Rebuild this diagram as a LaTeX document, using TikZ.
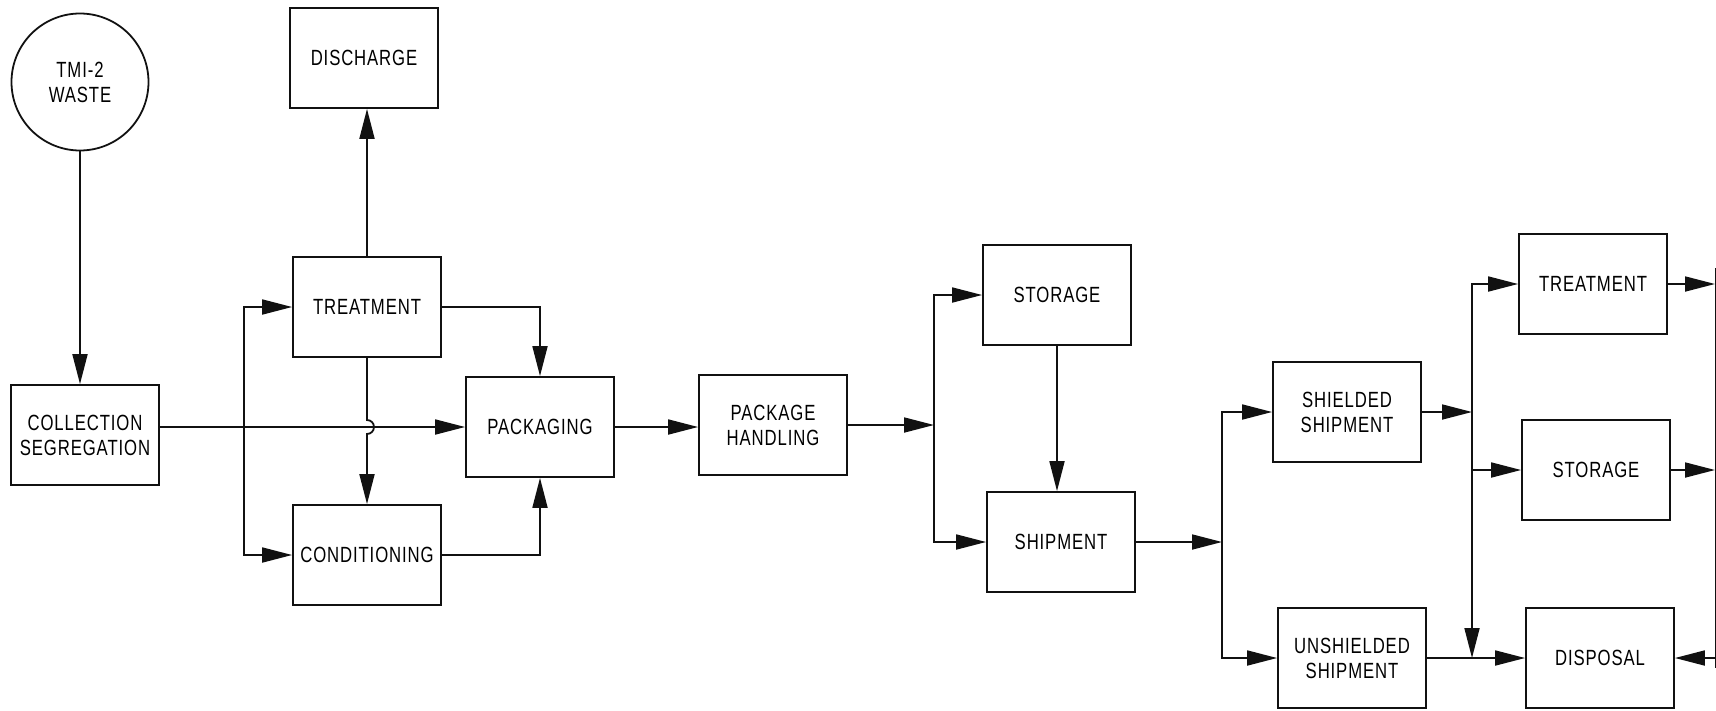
\documentclass[tikz,border=0pt]{standalone}
\usepackage{fontspec}
\setmainfont{Liberation Sans}[FakeStretch=0.76,LetterSpace=4]
\usepackage{tikz}
\usepackage{xcolor}
\usetikzlibrary{calc,arrows.meta,positioning}
\definecolor{inkline}{HTML}{111111}

\begin{document}
\begin{tikzpicture}[
    x=1pt, y=-1pt,
    stagebox/.style={
      draw=inkline,
      line width=1.8pt,
      minimum width=148pt,
      minimum height=100pt,
      inner sep=0pt,
      align=center,
      font=\fontsize{22}{25}\selectfont
    },
    flow/.style={draw=inkline, line width=1.8pt, -{Triangle[length=30pt,width=15pt]}},
    wire/.style={draw=inkline, line width=1.8pt}
  ]
  \useasboundingbox (0,0) rectangle (1716,710);

  \node[stagebox, circle, minimum size=137pt] (waste) at (80,82) {TMI-2\\WASTE};
  \node[stagebox] (collect) at (85,435) {COLLECTION\\SEGREGATION};
  \node[stagebox] (discharge) at (364,58) {DISCHARGE};
  \node[stagebox] (treat) at (367,307) {TREATMENT};
  \node[stagebox] (cond) at (367,555) {CONDITIONING};
  \node[stagebox] (pack) at (540,427) {PACKAGING};
  \node[stagebox] (handle) at (773,425) {PACKAGE\\HANDLING};
  \node[stagebox] (store) at (1057,295) {STORAGE};
  \node[stagebox] (ship) at (1061,542) {SHIPMENT};
  \node[stagebox] (shield) at (1347,412) {SHIELDED\\SHIPMENT};
  \node[stagebox] (unshield) at (1352,658) {UNSHIELDED\\SHIPMENT};
  \node[stagebox] (rtreat) at (1593,284) {TREATMENT};
  \node[stagebox] (rstore) at (1596,470) {STORAGE};
  \node[stagebox] (disposal) at (1600,658) {DISPOSAL};

  \coordinate (split) at (244,427);
  \coordinate (hsplit) at (934,425);
  \coordinate (ssplit) at (1222,540);
  \coordinate (tsplit) at (1472,412);
  \coordinate (rim) at (1715,0);
  \coordinate (rimtop) at (1716,268);
  \coordinate (rimbot) at (1716,668);
  \coordinate (hop) at (treat.south |- pack.west);

  \draw[flow] (waste.south) -- (waste.south |- collect.north);
  \draw[flow] (collect.east |- pack.west) -- (pack.west);
  \draw[flow] (split) |- (treat.west);
  \draw[flow] (split) |- (cond.west);
  \draw[flow] (treat.north) -- (treat.north |- discharge.south);
  \draw[flow] (treat.east) -| (pack.north);
  \draw[flow] (cond.east) -| (pack.south);
  \draw[flow] (treat.south) -- ([yshift=7pt]hop) arc[start angle=90, end angle=-90, radius=7pt] -- (treat.south |- cond.north);

  \draw[flow] (pack.east) -- (pack.east -| handle.west);
  \draw[flow] (handle.east) -- (handle.east -| hsplit);
  \draw[flow] (hsplit) |- (store.west);
  \draw[flow] (hsplit) |- (ship.west);
  \draw[flow] (store.south) -- (store.south |- ship.north);

  \draw[flow] (ship.east) -- (ship.east -| ssplit);
  \draw[flow] (ssplit) |- (shield.west);
  \draw[flow] (ssplit) |- (unshield.west);
  \draw[flow] (shield.east) -- (shield.east -| tsplit);
  \draw[flow] (tsplit) |- (rtreat.west);
  \draw[flow] (tsplit) |- (rstore.west);
  \draw[flow] (tsplit) -- (tsplit |- disposal.west);
  \draw[flow] (unshield.east) -- (disposal.west);

  \draw[flow] (rtreat.east) -- (rtreat.east -| rim);
  \draw[flow] (rstore.east) -- (rstore.east -| rim);
  \draw[flow] (disposal.east -| rim) -- (disposal.east);
  \draw[wire] (rimtop) -- (rimbot);
\end{tikzpicture}
\end{document}
